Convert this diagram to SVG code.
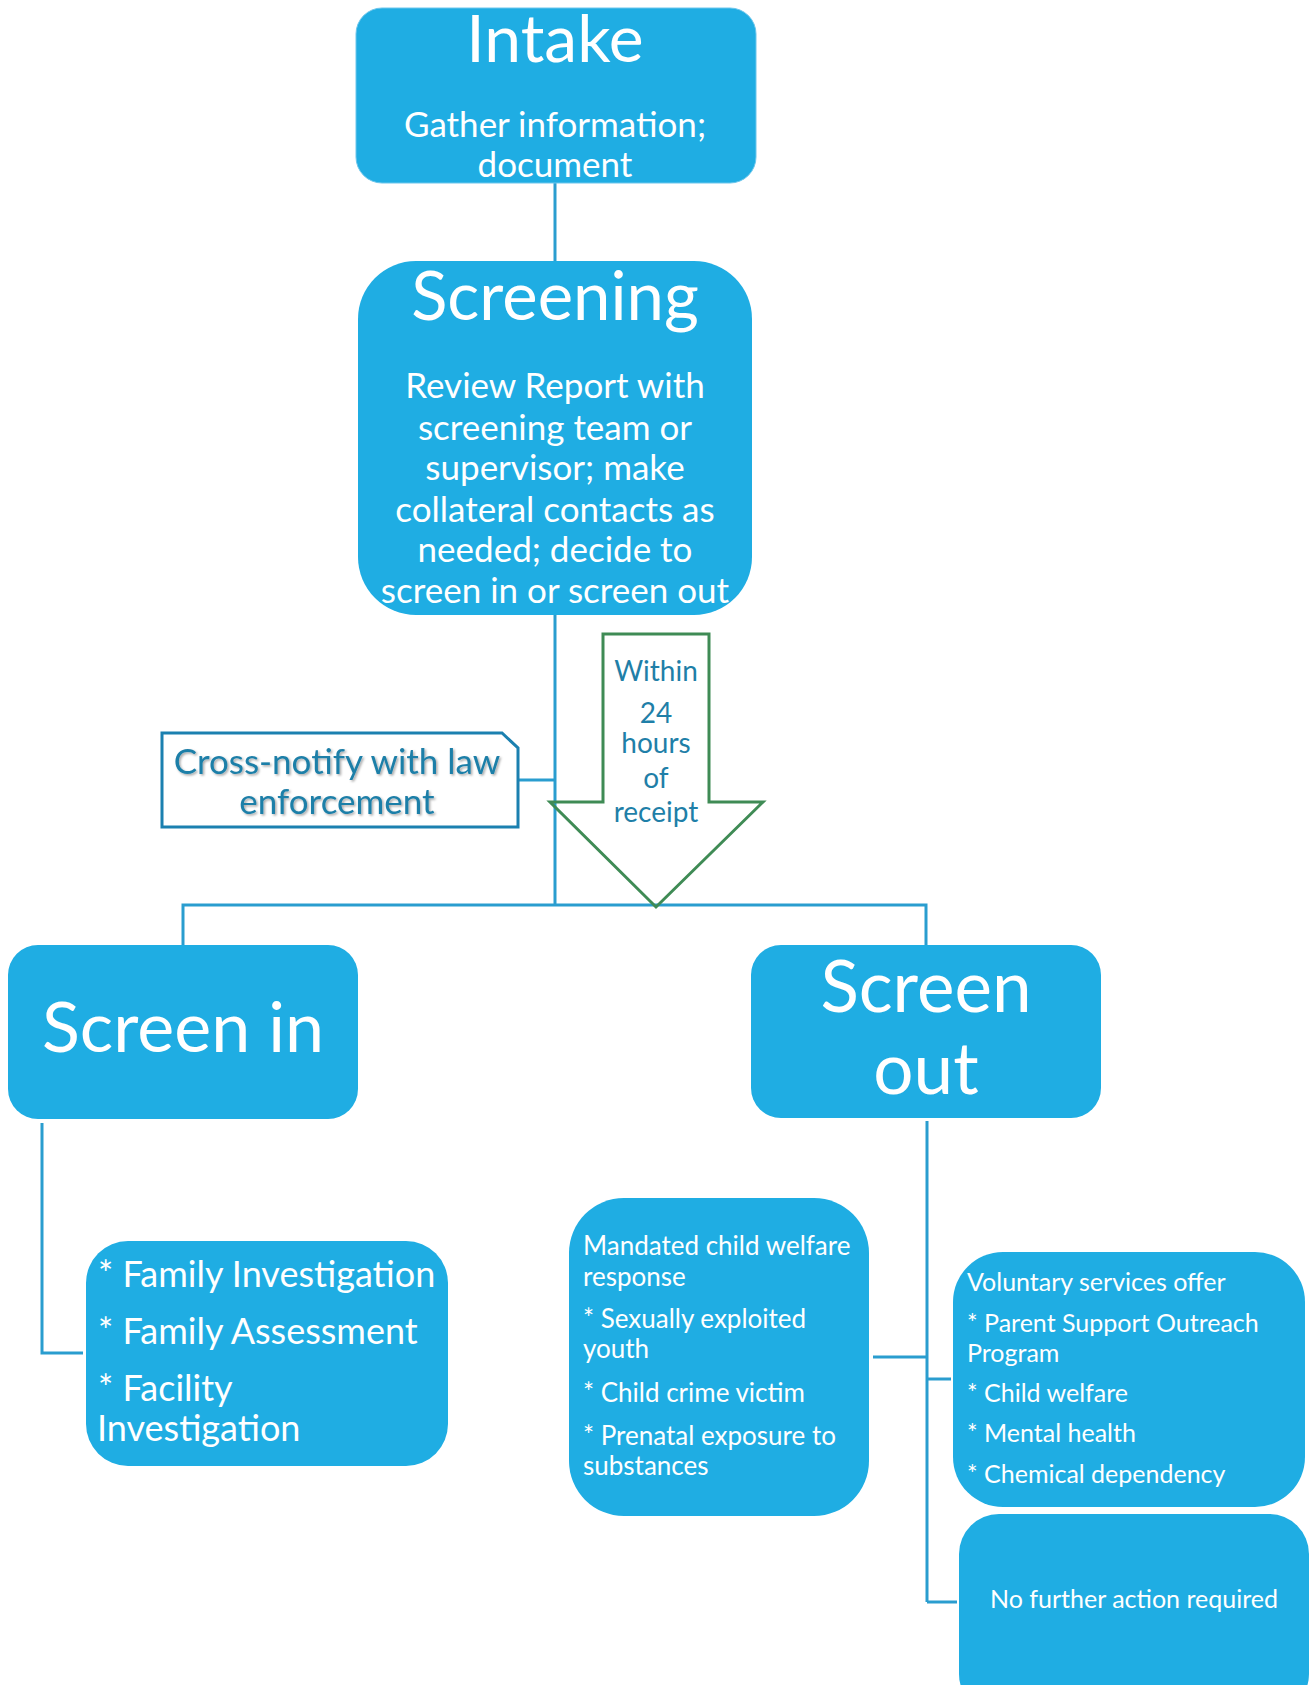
<svg xmlns="http://www.w3.org/2000/svg" width="1312" height="1685" viewBox="0 0 1312 1685">
<defs>
<style>
.box{fill:#1fade3;}
.t{fill:#ffffff;font-family:Lato,"Liberation Sans",sans-serif;}
.c{fill:none;stroke:#2a9dcf;stroke-width:3;}
.mid{text-anchor:middle;}
.blue{fill:#1f7fa8;font-family:Lato,"Liberation Sans",sans-serif;}
</style>
<filter id="sh" x="-10%" y="-20%" width="120%" height="140%">
<feDropShadow dx="1.5" dy="1.5" stdDeviation="1" flood-color="#000" flood-opacity="0.35"/>
</filter>
</defs>
<rect width="1312" height="1685" fill="#ffffff"/>

<g id="connectors">
<line class="c" x1="555" y1="183" x2="555" y2="261"/>
<line class="c" x1="555" y1="615" x2="555" y2="905"/>
<line class="c" x1="518" y1="780" x2="555" y2="780"/>
<polyline class="c" points="183,945 183,905 926,905 926,945"/>
<polyline class="c" points="42,1123 42,1353 83,1353"/>
<line class="c" x1="927" y1="1121" x2="927" y2="1602"/>
<line class="c" x1="873" y1="1357" x2="927" y2="1357"/>
<line class="c" x1="927" y1="1379" x2="951" y2="1379"/>
<line class="c" x1="927" y1="1602" x2="957" y2="1602"/>
</g>

<g id="intake">
<rect class="box" x="356" y="8" width="400" height="175" rx="26" stroke="#6cc6ec" stroke-width="1"/>
<text class="t mid" x="555" y="62" font-size="66">Intake</text>
<text class="t mid" x="555" y="137" font-size="35">Gather information;</text>
<text class="t mid" x="555" y="177" font-size="35">document</text>
</g>

<g id="screening">
<rect class="box" x="358" y="261" width="394" height="354" rx="58"/>
<text class="t mid" x="555" y="320" font-size="67">Screening</text>
<g class="t mid" font-size="35">
<text x="555" y="398">Review Report with</text>
<text x="555" y="440">screening team or</text>
<text x="555" y="480">supervisor; make</text>
<text x="555" y="522">collateral contacts as</text>
<text x="555" y="562">needed; decide to</text>
<text x="555" y="603">screen in or screen out</text>
</g>
</g>

<g id="cross-notify">
<path d="M162,733 L502,733 L518,748 L518,827 L162,827 Z" fill="#ffffff" stroke="#1b80b0" stroke-width="3"/>
<g class="blue mid" font-size="35" filter="url(#sh)">
<text x="337" y="774">Cross-notify with law</text>
<text x="337" y="814">enforcement</text>
</g>
</g>

<g id="within-24-hours">
<path d="M603,634 L709,634 L709,802 L763,802 L656,907 L550,802 L603,802 Z" fill="none" stroke="#3f8b55" stroke-width="3"/>
<g class="blue mid" font-size="28">
<text x="656" y="681">Within</text>
<text x="656" y="723">24</text>
<text x="656" y="753">hours</text>
<text x="656" y="788">of</text>
<text x="656" y="822">receipt</text>
</g>
</g>

<g id="screen-in">
<rect class="box" x="8" y="945" width="350" height="174" rx="30"/>
<text class="t mid" x="183" y="1052" font-size="70">Screen in</text>
</g>

<g id="screen-out">
<rect class="box" x="751" y="945" width="350" height="173" rx="30"/>
<text class="t mid" x="926" y="1012" font-size="71">Screen</text>
<text class="t mid" x="926" y="1094" font-size="71">out</text>
</g>

<g id="screen-in-options">
<rect class="box" x="86" y="1241" width="362" height="225" rx="42"/>
<g class="t" font-size="36">
<text x="98" y="1287">* Family Investigation</text>
<text x="98" y="1344">* Family Assessment</text>
<text x="98" y="1401">* Facility</text>
<text x="97" y="1441">Investigation</text>
</g>
</g>

<g id="mandated">
<rect class="box" x="569" y="1198" width="300" height="318" rx="55"/>
<g class="t" font-size="26">
<text x="583" y="1255">Mandated child welfare</text>
<text x="583" y="1286">response</text>
<text x="583" y="1328">* Sexually exploited</text>
<text x="583" y="1358">youth</text>
<text x="583" y="1402">* Child crime victim</text>
<text x="583" y="1445">* Prenatal exposure to</text>
<text x="583" y="1475">substances</text>
</g>
</g>

<g id="voluntary">
<rect class="box" x="953" y="1252" width="352" height="255" rx="50"/>
<g class="t" font-size="25">
<text x="967" y="1291">Voluntary services offer</text>
<text x="967" y="1332">* Parent Support Outreach</text>
<text x="967" y="1362">Program</text>
<text x="967" y="1402">* Child welfare</text>
<text x="967" y="1442">* Mental health</text>
<text x="967" y="1483">* Chemical dependency</text>
</g>
</g>

<g id="no-further-action">
<rect class="box" x="959" y="1514" width="350" height="200" rx="40"/>
<text class="t mid" x="1134" y="1608" font-size="25">No further action required</text>
</g>
</svg>
